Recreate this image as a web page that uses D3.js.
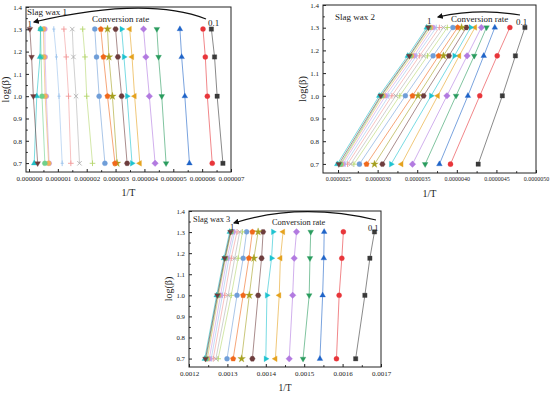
<!DOCTYPE html>
<html>
<head>
<meta charset="utf-8">
<script src="https://cdn.jsdelivr.net/npm/d3@7"></script>
<style>
  body { margin: 0; background: #fff; }
  svg { display: block; font-family: "Liberation Serif", "Times New Roman", serif; }
</style>
</head>
<body>
<div id="chart"></div>
<script>
// heating rates 5, 10, 15, 20 K/min -> log(beta)
const logBeta = [0.699, 1.0, 1.176, 1.301];
const yTicks = [0.7, 0.8, 0.9, 1.0, 1.1, 1.2, 1.3, 1.4];

// 1/T for each conversion rate (0.1 first), one value per heating rate
const wax1X = [
    [6.72e-6, 6.52e-6, 6.43e-6, 6.32e-6],
    [6.35e-6, 6.18e-6, 6.11e-6, 6.03e-6],
    [5.56e-6, 5.40e-6, 5.29e-6, 5.23e-6],
    [4.75e-6, 4.60e-6, 4.49e-6, 4.43e-6],
    [4.37e-6, 4.17e-6, 4.05e-6, 3.97e-6],
    [3.84e-6, 3.66e-6, 3.57e-6, 3.49e-6],
    [3.57e-6, 3.40e-6, 3.29e-6, 3.21e-6],
    [3.40e-6, 3.21e-6, 3.08e-6, 3.00e-6],
    [3.05e-6, 2.89e-6, 2.77e-6, 2.72e-6],
    [2.98e-6, 2.72e-6, 2.58e-6, 2.49e-6],
    [2.63e-6, 2.43e-6, 2.34e-6, 2.28e-6],
    [2.20e-6, 2.00e-6, 1.94e-6, 1.86e-6],
    [1.75e-6, 1.63e-6, 1.54e-6, 1.50e-6],
    [1.45e-6, 1.37e-6, 1.29e-6, 1.21e-6],
    [1.15e-6, 1.04e-6, 0.95e-6, 0.86e-6],
    [0.70e-6, 0.60e-6, 0.56e-6, 0.55e-6],
    [0.68e-6, 0.56e-6, 0.52e-6, 0.50e-6],
    [0.55e-6, 0.45e-6, 0.42e-6, 0.40e-6],
    [0.18e-6, 0.27e-6, 0.38e-6, 0.40e-6],
    [0.30e-6, 0.15e-6, 0.09e-6, 0.03e-6]
];

const wax2X = [
    [4.27e-6, 4.575e-6, 4.74e-6, 4.86e-6],
    [3.92e-6, 4.29e-6, 4.51e-6, 4.67e-6],
    [3.78e-6, 4.14e-6, 4.34e-6, 4.48e-6],
    [3.60e-6, 3.99e-6, 4.22e-6, 4.375e-6],
    [3.44e-6, 3.875e-6, 4.13e-6, 4.31e-6],
    [3.30e-6, 3.76e-6, 4.03e-6, 4.23e-6],
    [3.17e-6, 3.675e-6, 3.97e-6, 4.175e-6],
    [3.06e-6, 3.58e-6, 3.90e-6, 4.12e-6],
    [2.96e-6, 3.51e-6, 3.83e-6, 4.06e-6],
    [2.86e-6, 3.44e-6, 3.77e-6, 4.01e-6],
    [2.77e-6, 3.35e-6, 3.70e-6, 3.95e-6],
    [2.70e-6, 3.28e-6, 3.63e-6, 3.88e-6],
    [2.66e-6, 3.23e-6, 3.58e-6, 3.83e-6],
    [2.62e-6, 3.18e-6, 3.53e-6, 3.78e-6],
    [2.59e-6, 3.14e-6, 3.49e-6, 3.74e-6],
    [2.56e-6, 3.10e-6, 3.46e-6, 3.70e-6],
    [2.54e-6, 3.07e-6, 3.43e-6, 3.67e-6],
    [2.53e-6, 3.05e-6, 3.41e-6, 3.65e-6],
    [2.49e-6, 3.02e-6, 3.38e-6, 3.62e-6],
    [2.51e-6, 3.04e-6, 3.40e-6, 3.64e-6]
];

const wax3X = [
    [0.001634, 0.001658, 0.001671, 0.001683],
    [0.001584, 0.001591, 0.001598, 0.001602],
    [0.001541, 0.001548, 0.001551, 0.001552],
    [0.001497, 0.001513, 0.001515, 0.001517],
    [0.001461, 0.001470, 0.001474, 0.001480],
    [0.001425, 0.001435, 0.001438, 0.001445],
    [0.001400, 0.001403, 0.001415, 0.001419],
    [0.001365, 0.001380, 0.001389, 0.001393],
    [0.001337, 0.001357, 0.001369, 0.001380],
    [0.001315, 0.001341, 0.001356, 0.001365],
    [0.001299, 0.001325, 0.001341, 0.001350],
    [0.001276, 0.001310, 0.001328, 0.001339],
    [0.001270, 0.001302, 0.001319, 0.001332],
    [0.001263, 0.001293, 0.001310, 0.001325],
    [0.001258, 0.001287, 0.001304, 0.001319],
    [0.001253, 0.001282, 0.001299, 0.001315],
    [0.001248, 0.001277, 0.001295, 0.001310],
    [0.001245, 0.001275, 0.001294, 0.001309],
    [0.001241, 0.001272, 0.001291, 0.001306],
    [0.001243, 0.001274, 0.001293, 0.001308]
];

const wax1Ticks = [0, 1e-6, 2e-6, 3e-6, 4e-6, 5e-6, 6e-6, 7e-6];
const wax2Ticks = [2.5e-6, 3.0e-6, 3.5e-6, 4.0e-6, 4.5e-6, 5.0e-6];
const wax3Ticks = [0.0012, 0.0013, 0.0014, 0.0015, 0.0016, 0.0017];

const seriesColors = [
    "#3a3a3a", "#e8353a", "#1f64c8", "#2a9c5e", "#b27ae0",
    "#e5a21e", "#1ec3d0", "#6d3d3d", "#a5a020", "#f0691c",
    "#6f9ed8", "#b5d66e", "#b0b0b0", "#f29a9a", "#9cc3ec",
    "#c89be8", "#f2b15a", "#6fd08a", "#20c0c8", "#6d3d3d"
];
const seriesSymbols = [
    "square", "circle", "triUp", "triDown", "diamond",
    "triLeft", "triRight", "hexagon", "star", "pentagon",
    "circle", "plus", "cross", "plus", "bar",
    "circle", "circle", "circle", "triUp", "triDown"
];

const width = 550;
const height = 394;

const svg = d3.select("#chart")
    .append("svg")
    .attr("width", width)
    .attr("height", height);

svg.append("defs")
    .append("marker")
    .attr("id", "arrowhead")
    .attr("viewBox", "0 0 10 10")
    .attr("refX", 8)
    .attr("refY", 5)
    .attr("markerWidth", 6)
    .attr("markerHeight", 6)
    .attr("markerUnits", "userSpaceOnUse")
    .attr("orient", "auto")
    .append("path")
    .attr("d", "M0,0L10,5L0,10Z")
    .attr("fill", "#111");

const polygon = (n, r, startDeg) => {
    const pts = d3.range(n).map(i => {
        const a = (startDeg + i * 360 / n) * Math.PI / 180;
        return [r * Math.cos(a), r * Math.sin(a)];
    });
    return "M" + pts.map(p => p.join(",")).join("L") + "Z";
};

const symbolPath = (type) => {
    switch (type) {
        case "square":   return polygon(4, 3.1, 45);
        case "circle":   return d3.symbol(d3.symbolCircle, 20)();
        case "triUp":    return polygon(3, 3.3, -90);
        case "triDown":  return polygon(3, 3.3, 90);
        case "triLeft":  return polygon(3, 3.3, 180);
        case "triRight": return polygon(3, 3.3, 0);
        case "diamond":  return polygon(4, 3.3, -90);
        case "hexagon":  return polygon(6, 2.8, 0);
        case "pentagon": return polygon(5, 2.9, -90);
        case "star":     return d3.symbol(d3.symbolStar, 18)();
        case "plus":     return "M-2.8,0H2.8M0,-2.8V2.8";
        case "cross":    return "M-2.2,-2.2L2.2,2.2M-2.2,2.2L2.2,-2.2";
        case "bar":      return "M0,-2.8V2.8M-1.5,0H1.5";
    }
};
const isStrokeSymbol = (type) => type === "plus" || type === "cross" || type === "bar";

const drawPanel = (p) => {
    const g = svg.append("g");

    const xScale = d3.scaleLinear()
        .domain(p.xDomain)
        .range([p.left, p.right]);

    const yScale = d3.scaleLinear()
        .domain([0.66, 1.4])
        .range([p.bottom, p.top]);

    // series lines and markers
    p.data.forEach((xs, i) => {
        const pts = xs.map((x, j) => [x, logBeta[j]]);
        const lineGenerator = d3.line()
            .x(d => xScale(d[0]))
            .y(d => yScale(d[1]));

        g.append("path")
            .attr("d", lineGenerator(pts))
            .attr("fill", "none")
            .attr("stroke", seriesColors[i])
            .attr("stroke-width", 0.7)
            .attr("stroke-opacity", 0.85);
    });

    p.data.forEach((xs, i) => {
        const type = seriesSymbols[i];
        g.append("g")
            .selectAll("path")
            .data(xs.map((x, j) => [x, logBeta[j]]))
            .join("path")
                .attr("transform", d => `translate(${xScale(d[0])}, ${yScale(d[1])})`)
                .attr("d", symbolPath(type))
                .attr("fill", isStrokeSymbol(type) ? "none" : seriesColors[i])
                .attr("stroke", seriesColors[i])
                .attr("stroke-width", isStrokeSymbol(type) ? 0.9 : 0.3);
    });

    // frame
    g.append("rect")
        .attr("x", p.left)
        .attr("y", p.top)
        .attr("width", p.right - p.left)
        .attr("height", p.bottom - p.top)
        .attr("fill", "none")
        .attr("stroke", "#222")
        .attr("stroke-width", 1);

    const xMinor = p.xTicks.slice(1).map((t, i) => (t + p.xTicks[i]) / 2)
        .filter(t => t >= p.xDomain[0] && t <= p.xDomain[1]);
    const yMinor = yTicks.slice(1).map((t, i) => (t + yTicks[i]) / 2);

    const bottomAxis = d3.axisBottom(xScale)
        .tickValues(p.xTicks)
        .tickFormat(p.xFormat)
        .tickSize(-3)
        .tickPadding(4);

    g.append("g")
        .attr("class", "axis-x")
        .attr("transform", `translate(0, ${p.bottom})`)
        .call(bottomAxis)
        .call(a => a.select(".domain").remove());

    g.append("g")
        .attr("transform", `translate(0, ${p.bottom})`)
        .call(d3.axisBottom(xScale).tickValues(xMinor).tickFormat("").tickSize(-1.8))
        .call(a => a.select(".domain").remove());

    const leftAxis = d3.axisLeft(yScale)
        .tickValues(yTicks)
        .tickFormat(d3.format(".1f"))
        .tickSize(-3)
        .tickPadding(4);

    g.append("g")
        .attr("class", "axis-y")
        .attr("transform", `translate(${p.left}, 0)`)
        .call(leftAxis)
        .call(a => a.select(".domain").remove());

    g.append("g")
        .attr("transform", `translate(${p.left}, 0)`)
        .call(d3.axisLeft(yScale).tickValues(yMinor).tickFormat("").tickSize(-1.8))
        .call(a => a.select(".domain").remove());

    g.selectAll(".tick line").attr("stroke", "#222");
    g.selectAll(".axis-x text")
        .style("font-family", "'Liberation Serif', serif")
        .style("font-size", p.xTickSize + "px")
        .attr("fill", "#222");
    g.selectAll(".axis-y text")
        .style("font-family", "'Liberation Serif', serif")
        .style("font-size", p.yTickSize + "px")
        .attr("fill", "#222");

    // axis titles
    g.append("text")
        .text("1/T")
        .attr("x", (p.left + p.right) / 2)
        .attr("y", p.bottom + 24)
        .attr("text-anchor", "middle")
        .style("font-size", p.titleSize + "px")
        .attr("fill", "#222");

    g.append("text")
        .text("log(β)")
        .attr("transform", `translate(${p.left - 17}, ${(p.top + p.bottom) / 2}) rotate(-90)`)
        .attr("text-anchor", "middle")
        .style("font-size", (p.titleSize + 0.5) + "px")
        .attr("fill", "#222");

    // annotations
    g.append("text")
        .text(p.title)
        .attr("x", p.titlePos[0])
        .attr("y", p.titlePos[1])
        .style("font-size", p.labelSize + "px")
        .attr("fill", "#222");

    g.append("text")
        .text("Conversion rate")
        .attr("x", p.convPos[0])
        .attr("y", p.convPos[1])
        .style("font-size", p.labelSize + "px")
        .attr("fill", "#222");

    g.append("text")
        .text("0.1")
        .attr("x", p.lowPos[0])
        .attr("y", p.lowPos[1])
        .style("font-size", p.labelSize + "px")
        .attr("fill", "#222");

    g.append("text")
        .text("1")
        .attr("x", p.highPos[0])
        .attr("y", p.highPos[1])
        .style("font-size", p.labelSize + "px")
        .attr("fill", "#222");

    const path = d3.path();
    path.moveTo(p.arrow[0], p.arrow[1]);
    path.quadraticCurveTo(p.arrow[2], p.arrow[3], p.arrow[4], p.arrow[5]);
    g.append("path")
        .attr("d", path.toString())
        .attr("fill", "none")
        .attr("stroke", "#111")
        .attr("stroke-width", 1.2)
        .attr("marker-end", "url(#arrowhead)");
};

drawPanel({
    data: wax1X, xTicks: wax1Ticks, xDomain: [-1.04e-7, 7.0e-6],
    xFormat: d => d.toFixed(6), xTickSize: 6.9, yTickSize: 7, titleSize: 10,
    left: 26, right: 231, top: 7, bottom: 172,
    title: "Slag wax 1", titlePos: [27, 15], labelSize: 9,
    convPos: [92, 22], lowPos: [208, 26], highPos: [27.5, 27],
    arrow: [206, 19, 146, -4, 34, 22]
});

drawPanel({
    data: wax2X, xTicks: wax2Ticks, xDomain: [2.31e-6, 5.0e-6],
    xFormat: d => d.toFixed(7), xTickSize: 6, yTickSize: 7, titleSize: 10,
    left: 323, right: 536, top: 5, bottom: 173,
    title: "Slag wax 2", titlePos: [335, 19.5], labelSize: 9,
    convPos: [451, 22], lowPos: [516, 25], highPos: [427, 24],
    arrow: [520, 15, 479, 8, 438, 17]
});

drawPanel({
    data: wax3X, xTicks: wax3Ticks, xDomain: [0.0012, 0.0017],
    xFormat: d => d.toFixed(4), xTickSize: 7, yTickSize: 6.8, titleSize: 9.5,
    left: 189, right: 381, top: 211, bottom: 367,
    title: "Slag wax 3", titlePos: [193, 222], labelSize: 8.4,
    convPos: [272, 225], lowPos: [368, 230.5], highPos: [230, 229.5],
    arrow: [376, 220, 300, 202, 234, 223]
});
</script>
</body>
</html>
